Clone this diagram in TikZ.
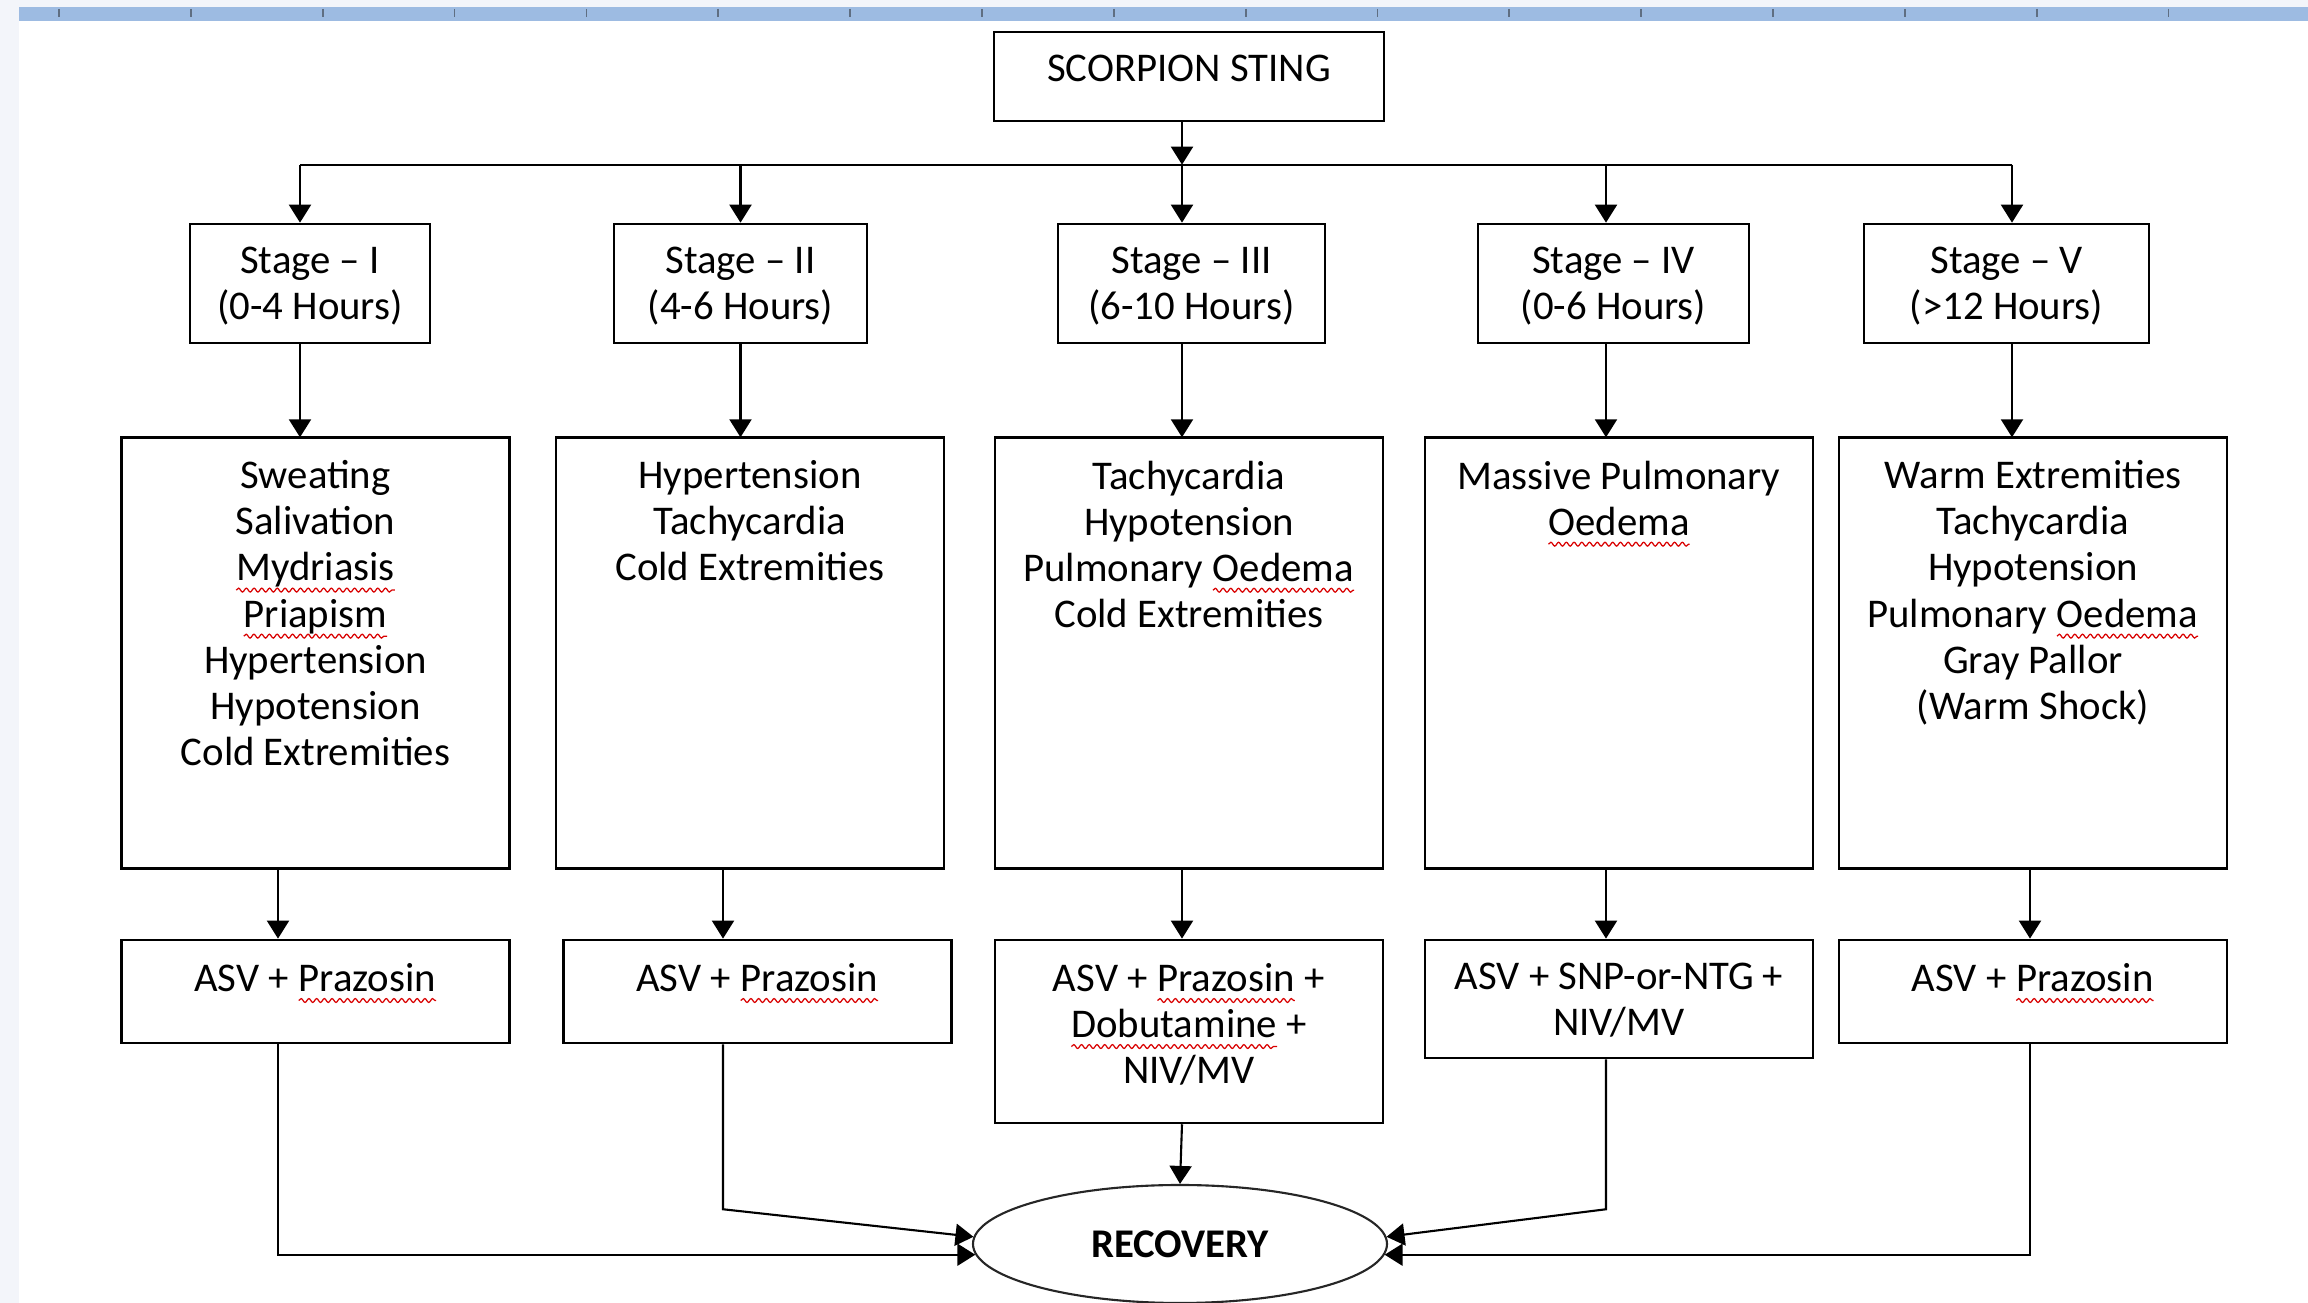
\documentclass[tikz,border=0pt]{standalone}
\usepackage{fontspec}
\setmainfont{Carlito}
\usepackage{tikz}
\usetikzlibrary{arrows.meta,positioning,shapes.geometric,decorations.pathmorphing}
\definecolor{pagegray}{RGB}{243,245,250}
\definecolor{rulerblue}{RGB}{157,187,226}
\definecolor{tickgray}{RGB}{95,110,130}
\newcommand\spell[1]{\tikz[baseline=(w.base)]{\node[reset cm,inner sep=0pt,outer sep=0pt,draw=none,minimum size=0pt,anchor=base] (w) {#1};
  \draw[red!85!black,line width=0.35pt,decorate,decoration={snake,amplitude=0.55pt,segment length=2.2pt}] ([yshift=-2.6pt]w.base west) -- ([yshift=-2.6pt]w.base east);}}

\begin{document}
\begin{tikzpicture}[
    font=\fontsize{11.6}{13.1}\selectfont,
    flowbox/.style={rectangle,draw,line width=0.75pt,inner sep=0pt},
    boxtext/.style={anchor=north,align=center,inner sep=0pt,yshift=-0.24cm},
    titlebox/.style={flowbox,minimum width=3.90cm,minimum height=0.89cm},
    stagebox/.style={flowbox,minimum height=1.19cm},
    symbox/.style={flowbox,minimum width=3.88cm,minimum height=4.31cm,anchor=north},
    treatbox/.style={flowbox,minimum width=3.88cm,minimum height=1.03cm},
    recbox/.style={ellipse,draw=black!85,line width=0.6pt,minimum width=4.14cm,minimum height=1.18cm,font=\fontsize{11.6}{13.1}\selectfont\bfseries},
    arrow/.style={-{Triangle[length=1.8mm,width=2.2mm]},line width=0.6pt}
]
\clip (0,0) rectangle (23.08,-13.03);
% page and ruler
\fill[pagegray] (0,0) rectangle (23.08,-13.03);
\fill[white] (0.19,-0.21) rectangle (23.08,-13.03);
\fill[rulerblue] (0.19,-0.07) rectangle (23.08,-0.21);
\foreach \k in {0,...,16}
    \draw[tickgray,line width=0.5pt] ({0.59+1.3185*\k},-0.09) -- ++(0,-0.08);

\node[titlebox,label={[boxtext]north:SCORPION STING}] (sting) at (11.89,-0.765) {};

% stages
\node[stagebox,minimum width=2.40cm,label={[boxtext]north:{Stage -- I\\(0-4 Hours)}}] (s1) at (3.10,-2.835) {};
\node[stagebox,minimum width=2.53cm,label={[boxtext]north:{Stage -- II\\(4-6 Hours)}}] (s2) at (7.405,-2.835) {};
\node[stagebox,minimum width=2.67cm,label={[boxtext]north:{Stage -- III\\(6-10 Hours)}}] (s3) at (11.915,-2.835) {};
\node[stagebox,minimum width=2.71cm,label={[boxtext]north:{Stage -- IV\\(0-6 Hours)}}] (s4) at (16.135,-2.835) {};
\node[stagebox,minimum width=2.85cm,label={[boxtext]north:{Stage -- V\\(>12 Hours)}}] (s5) at (20.065,-2.835) {};

% signs
\node[symbox,label={[boxtext]north:{Sweating\\Salivation\\\spell{Mydriasis}\\\spell{Priapism}\\Hypertension\\Hypotension\\Cold Extremities}}] (m1) at (3.155,-4.36) {};
\node[symbox,label={[boxtext]north:{Hypertension\\Tachycardia\\Cold Extremities}}] (m2) at (7.50,-4.36) {};
\node[symbox,label={[boxtext]north:{Tachycardia\\Hypotension\\Pulmonary \spell{Oedema}\\Cold Extremities}}] (m3) at (11.89,-4.36) {};
\node[symbox,label={[boxtext]north:{Massive Pulmonary\\\spell{Oedema}}}] (m4) at (16.19,-4.36) {};
\node[symbox,label={[boxtext]north:{Warm Extremities\\Tachycardia\\Hypotension\\Pulmonary \spell{Oedema}\\Gray Pallor\\(Warm Shock)}}] (m5) at (20.33,-4.36) {};

% treatment
\node[treatbox,below=0.69cm of m1,label={[boxtext]north:{ASV + \spell{Prazosin}}}] (t1) {};
\node[treatbox,below=0.69cm of m2,xshift=0.075cm,label={[boxtext]north:{ASV + \spell{Prazosin}}}] (t2) {};
\node[treatbox,below=0.69cm of m3,minimum height=1.83cm,label={[boxtext]north:{ASV + \spell{Prazosin} +\\\spell{Dobutamine} +\\NIV/MV}}] (t3) {};
\node[treatbox,below=0.69cm of m4,minimum height=1.18cm,label={[boxtext]north:{ASV + SNP-or-NTG +\\NIV/MV}}] (t4) {};
\node[treatbox,below=0.69cm of m5,label={[boxtext]north:{ASV + \spell{Prazosin}}}] (t5) {};

\node[recbox] (rec) at (11.80,-12.44) {RECOVERY};

% sting to stages
\draw[arrow] ([xshift=-0.07cm]sting.south) -- ([xshift=-0.095cm,yshift=0.58cm]s3.north);
\draw[line width=0.6pt] ([xshift=-0.10cm,yshift=0.58cm]s1.north) -- ([xshift=0.055cm,yshift=0.58cm]s5.north);
\draw[arrow] ([xshift=-0.10cm,yshift=0.58cm]s1.north) -- ([xshift=-0.10cm]s1.north);
\draw[arrow] ([yshift=0.58cm]s2.north) -- (s2.north);
\draw[arrow] ([xshift=-0.095cm,yshift=0.58cm]s3.north) -- ([xshift=-0.095cm]s3.north);
\draw[arrow] ([xshift=-0.075cm,yshift=0.58cm]s4.north) -- ([xshift=-0.075cm]s4.north);
\draw[arrow] ([xshift=0.055cm,yshift=0.58cm]s5.north) -- ([xshift=0.055cm]s5.north);

% stages to signs
\draw[arrow] ([xshift=-0.10cm]s1.south) -- ++(0,-0.93);
\draw[arrow] (s2.south) -- ++(0,-0.93);
\draw[arrow] ([xshift=-0.095cm]s3.south) -- ++(0,-0.93);
\draw[arrow] ([xshift=-0.075cm]s4.south) -- ++(0,-0.93);
\draw[arrow] ([xshift=0.055cm]s5.south) -- ++(0,-0.93);

% signs to treatment
\draw[arrow] ([xshift=-0.375cm]m1.south) -- ([xshift=-0.375cm]t1.north);
\draw[arrow] ([xshift=-0.27cm]m2.south) -- ([xshift=-0.345cm]t2.north);
\draw[arrow] ([xshift=-0.07cm]m3.south) -- ([xshift=-0.07cm]t3.north);
\draw[arrow] ([xshift=-0.13cm]m4.south) -- ([xshift=-0.13cm]t4.north);
\draw[arrow] ([xshift=-0.03cm]m5.south) -- ([xshift=-0.03cm]t5.north);

% treatment to recovery
\draw[arrow] ([xshift=-0.375cm]t1.south) |- (rec.183);
\draw[arrow] ([xshift=-0.345cm]t2.south) -- ++(0,-1.65) -- (rec.178);
\draw[arrow] ([xshift=-0.07cm]t3.south) -- (rec.north);
\draw[arrow] ([xshift=-0.13cm]t4.south) -- ++(0,-1.50) -- (rec.2);
\draw[arrow] ([xshift=-0.03cm]t5.south) |- (rec.357);
\end{tikzpicture}
\end{document}
